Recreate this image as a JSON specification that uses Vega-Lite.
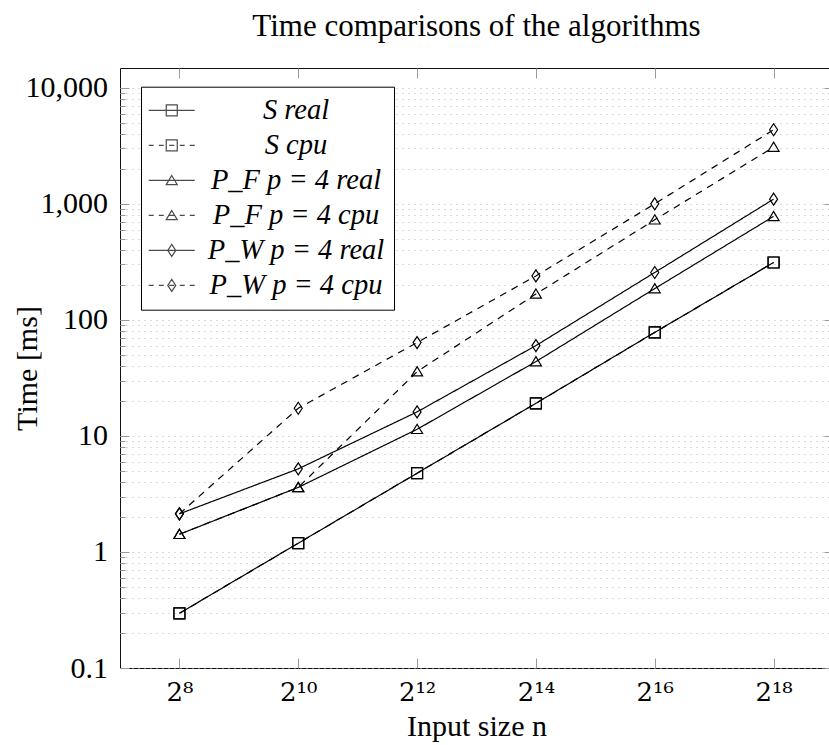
{
  "$schema": "https://vega.github.io/schema/vega-lite/v6.json",
  "autosize": "none",
  "padding": {"left": 120, "top": 68, "right": 0, "bottom": 77},
  "width": 713,
  "height": 600,
  "background": "white",
  "config": {
    "view": {"stroke": "#111111", "strokeWidth": 1},
    "font": "Liberation Serif"
  },
  "title": {
    "text": "Time comparisons of the algorithms",
    "font": "Liberation Serif",
    "fontSize": 31,
    "fontWeight": "normal",
    "color": "black",
    "anchor": "middle",
    "offset": 25
  },
  "data": {
    "values": [
      {"n": 256, "time": 0.296, "series": "S real", "algo": "S", "kind": "real"},
      {"n": 1024, "time": 1.19, "series": "S real", "algo": "S", "kind": "real"},
      {"n": 4096, "time": 4.77, "series": "S real", "algo": "S", "kind": "real"},
      {"n": 16384, "time": 19.1, "series": "S real", "algo": "S", "kind": "real"},
      {"n": 65536, "time": 78, "series": "S real", "algo": "S", "kind": "real"},
      {"n": 262144, "time": 312, "series": "S real", "algo": "S", "kind": "real"},
      {"n": 256, "time": 0.296, "series": "S cpu", "algo": "S", "kind": "cpu"},
      {"n": 1024, "time": 1.19, "series": "S cpu", "algo": "S", "kind": "cpu"},
      {"n": 4096, "time": 4.77, "series": "S cpu", "algo": "S", "kind": "cpu"},
      {"n": 16384, "time": 19.1, "series": "S cpu", "algo": "S", "kind": "cpu"},
      {"n": 65536, "time": 78, "series": "S cpu", "algo": "S", "kind": "cpu"},
      {"n": 262144, "time": 312, "series": "S cpu", "algo": "S", "kind": "cpu"},
      {"n": 256, "time": 1.42, "series": "P_F p = 4 real", "algo": "PF", "kind": "real"},
      {"n": 1024, "time": 3.6, "series": "P_F p = 4 real", "algo": "PF", "kind": "real"},
      {"n": 4096, "time": 11.4, "series": "P_F p = 4 real", "algo": "PF", "kind": "real"},
      {"n": 16384, "time": 43.7, "series": "P_F p = 4 real", "algo": "PF", "kind": "real"},
      {"n": 65536, "time": 186, "series": "P_F p = 4 real", "algo": "PF", "kind": "real"},
      {"n": 262144, "time": 779, "series": "P_F p = 4 real", "algo": "PF", "kind": "real"},
      {"n": 256, "time": 1.42, "series": "P_F p = 4 cpu", "algo": "PF", "kind": "cpu"},
      {"n": 1024, "time": 3.6, "series": "P_F p = 4 cpu", "algo": "PF", "kind": "cpu"},
      {"n": 4096, "time": 35.8, "series": "P_F p = 4 cpu", "algo": "PF", "kind": "cpu"},
      {"n": 16384, "time": 167, "series": "P_F p = 4 cpu", "algo": "PF", "kind": "cpu"},
      {"n": 65536, "time": 728, "series": "P_F p = 4 cpu", "algo": "PF", "kind": "cpu"},
      {"n": 262144, "time": 3080, "series": "P_F p = 4 cpu", "algo": "PF", "kind": "cpu"},
      {"n": 256, "time": 2.13, "series": "P_W p = 4 real", "algo": "PW", "kind": "real"},
      {"n": 1024, "time": 5.2, "series": "P_W p = 4 real", "algo": "PW", "kind": "real"},
      {"n": 4096, "time": 16.1, "series": "P_W p = 4 real", "algo": "PW", "kind": "real"},
      {"n": 16384, "time": 60, "series": "P_W p = 4 real", "algo": "PW", "kind": "real"},
      {"n": 65536, "time": 256, "series": "P_W p = 4 real", "algo": "PW", "kind": "real"},
      {"n": 262144, "time": 1097, "series": "P_W p = 4 real", "algo": "PW", "kind": "real"},
      {"n": 256, "time": 2.13, "series": "P_W p = 4 cpu", "algo": "PW", "kind": "cpu"},
      {"n": 1024, "time": 17.3, "series": "P_W p = 4 cpu", "algo": "PW", "kind": "cpu"},
      {"n": 4096, "time": 63.7, "series": "P_W p = 4 cpu", "algo": "PW", "kind": "cpu"},
      {"n": 16384, "time": 239, "series": "P_W p = 4 cpu", "algo": "PW", "kind": "cpu"},
      {"n": 65536, "time": 1000, "series": "P_W p = 4 cpu", "algo": "PW", "kind": "cpu"},
      {"n": 262144, "time": 4345, "series": "P_W p = 4 cpu", "algo": "PW", "kind": "cpu"}
    ]
  },
  "layer": [
    {
      "mark": {"type": "line", "color": "black", "strokeWidth": 1.2},
      "encoding": {
        "x": {
          "field": "n", "type": "quantitative",
          "scale": {"type": "log", "base": 2, "domain": [128, 524288], "nice": false},
          "axis": {
            "orient": "bottom",
            "values": [256, 1024, 4096, 16384, 65536, 262144],
            "labelExpr": "datum.value == 256 ? '2⁸' : datum.value == 1024 ? '2¹⁰' : datum.value == 4096 ? '2¹²' : datum.value == 16384 ? '2¹⁴' : datum.value == 65536 ? '2¹⁶' : '2¹⁸'",
            "labelOverlap": false, "labelFlush": false, "labelBound": false,
            "labelFont": "DejaVu Serif", "labelFontSize": 26, "labelColor": "black",
            "labelPadding": 21,
            "grid": false, "domain": false,
            "ticks": true, "tickSize": -10, "tickColor": "#9a9a9a", "tickWidth": 1,
            "title": "Input size n",
            "titleFont": "Liberation Serif", "titleFontSize": 30, "titleFontWeight": "normal", "titleColor": "black",
            "titleBaseline": "alphabetic", "titleY": 67
          }
        },
        "y": {
          "field": "time", "type": "quantitative",
          "scale": {"type": "log", "domain": [0.1, 14800], "nice": false},
          "axis": {
            "orient": "left",
            "values": [0.1,0.2,0.3,0.4,0.5,0.6,0.7,0.8,0.9,1,2,3,4,5,6,7,8,9,10,20,30,40,50,60,70,80,90,100,200,300,400,500,600,700,800,900,1000,2000,3000,4000,5000,6000,7000,8000,9000,10000],
            "labelExpr": "datum.value == 0.1 ? '0.1' : datum.value == 1 ? '1' : datum.value == 10 ? '10' : datum.value == 100 ? '100' : datum.value == 1000 ? '1,000' : datum.value == 10000 ? '10,000' : ''",
            "labelOverlap": false, "labelFlush": false, "labelBound": false,
            "labelFont": "Liberation Serif", "labelFontSize": 30, "labelColor": "black",
            "labelPadding": 21.5,
            "grid": true, "gridDash": [1, 5], "gridColor": "#b4b4b4", "gridWidth": 1,
            "domain": false,
            "ticks": true, "tickColor": "#9a9a9a", "tickWidth": 1,
            "tickSize": {"condition": {"test": "indexof([0.1,1,10,100,1000,10000], datum.value) >= 0", "value": -9}, "value": -5},
            "title": "Time [ms]",
            "titleFont": "Liberation Serif", "titleFontSize": 30, "titleFontWeight": "normal", "titleColor": "black",
            "titleX": -93, "titleY": 300, "titleBaseline": "middle", "titleAngle": -90
          }
        },
        "detail": {"field": "series", "type": "nominal"},
        "strokeDash": {
          "field": "kind", "type": "nominal",
          "scale": {"domain": ["real", "cpu"], "range": [[1, 0], [7, 6]]},
          "legend": null
        }
      }
    },
    {
      "mark": {"type": "point", "filled": false, "color": "black", "strokeWidth": 1.2, "size": 400, "opacity": 1},
      "encoding": {
        "x": {
          "field": "n", "type": "quantitative",
          "scale": {"type": "log", "base": 2, "domain": [128, 524288], "nice": false},
          "axis": {
            "orient": "top",
            "values": [256, 1024, 4096, 16384, 65536, 262144],
            "labels": false, "grid": false, "domain": false,
            "ticks": true, "tickSize": -10, "tickColor": "#9a9a9a", "tickWidth": 1,
            "title": null
          }
        },
        "y": {
          "field": "time", "type": "quantitative",
          "scale": {"type": "log", "domain": [0.1, 14800], "nice": false},
          "axis": {
            "orient": "right",
            "values": [0.1,0.2,0.3,0.4,0.5,0.6,0.7,0.8,0.9,1,2,3,4,5,6,7,8,9,10,20,30,40,50,60,70,80,90,100,200,300,400,500,600,700,800,900,1000,2000,3000,4000,5000,6000,7000,8000,9000,10000],
            "labels": false, "grid": false, "domain": false,
            "ticks": true, "tickColor": "#9a9a9a", "tickWidth": 1,
            "tickSize": {"condition": {"test": "indexof([0.1,1,10,100,1000,10000], datum.value) >= 0", "value": -9}, "value": -5},
            "title": null
          }
        },
        "shape": {
          "field": "algo", "type": "nominal",
          "scale": {
            "domain": ["S", "PF", "PW"],
            "range": [
              "M-0.55,-0.55H0.55V0.55H-0.55Z",
              "M0,-0.5L0.55,0.42H-0.55Z",
              "M0,-0.6L0.4,0L0,0.6L-0.4,0Z"
            ]
          },
          "legend": null
        }
      }
    },
    {
      "transform": [{"filter": "datum.time < 0"}],
      "mark": {"type": "point", "filled": false, "color": "black", "strokeWidth": 1.2, "size": 400},
      "encoding": {
        "shape": {
          "field": "series", "type": "nominal",
          "scale": {
            "domain": ["S real", "S cpu", "P_F p = 4 real", "P_F p = 4 cpu", "P_W p = 4 real", "P_W p = 4 cpu"],
            "range": [
              "M-2.3,0H2.3M-0.55,-0.55H0.55V0.55H-0.55Z",
              "M-2.3,0H-1.8M-1.3,0H-0.8M-0.25,0H0.25M0.8,0H1.3M1.8,0H2.3M-0.55,-0.55H0.55V0.55H-0.55Z",
              "M-2.3,0H2.3M0,-0.5L0.55,0.42H-0.55Z",
              "M-2.3,0H-1.8M-1.3,0H-0.8M-0.25,0H0.25M0.8,0H1.3M1.8,0H2.3M0,-0.5L0.55,0.42H-0.55Z",
              "M-2.3,0H2.3M0,-0.6L0.4,0L0,0.6L-0.4,0Z",
              "M-2.3,0H-1.8M-1.3,0H-0.8M-0.25,0H0.25M0.8,0H1.3M1.8,0H2.3M0,-0.6L0.4,0L0,0.6L-0.4,0Z"
            ]
          },
          "legend": {
            "orient": "none", "legendX": 21, "legendY": 18.7,
            "title": null,
            "symbolSize": 400, "symbolStrokeWidth": 1.2, "symbolStrokeColor": "black", "symbolFillColor": "transparent",
            "symbolOffset": 7,
            "labelFont": "Liberation Serif", "labelFontStyle": "italic", "labelFontSize": 28.5, "labelColor": "black",
            "labelAlign": "center", "labelOffset": 110, "labelLimit": 0,
            "labelExpr": "datum.label + '\u00a0'",
            "padding": 9.5, "rowPadding": 6,
            "fillColor": "white", "strokeColor": "black", "cornerRadius": 0
          }
        }
      }
    }
  ],
  "resolve": {
    "scale": {"shape": "independent"},
    "axis": {"x": "independent", "y": "independent"}
  }
}
